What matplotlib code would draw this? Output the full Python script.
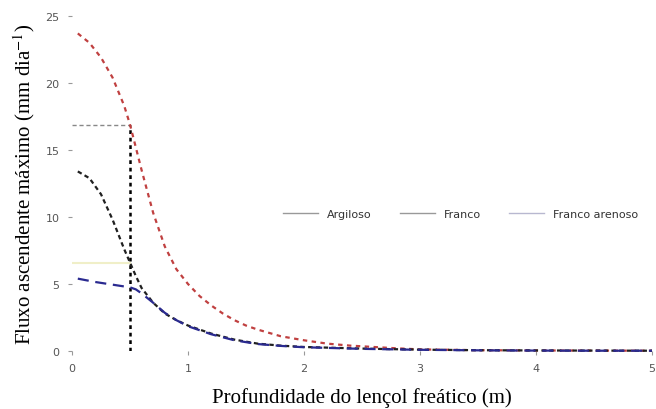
import matplotlib
matplotlib.use('Agg')
import matplotlib.pyplot as plt

# profundidade do lençol (m) e fluxo ascendente máximo (mm/dia)
prof_arg = [0.05, 0.15, 0.25, 0.35, 0.45, 0.5, 0.55, 0.6, 0.7, 0.8, 0.9, 1.0, 1.1, 1.2, 1.3, 1.4, 1.5,
            1.6, 1.8, 2.0, 2.2, 2.4, 2.6, 2.8, 3.0, 3.5, 4.0, 4.5, 5.0]
fluxo_arg = [23.7, 23.0, 21.9, 20.4, 18.3, 16.9, 15.2, 13.5, 10.3, 7.8, 6.1, 5.0, 4.1, 3.4, 2.8, 2.3, 1.9,
             1.6, 1.1, 0.8, 0.55, 0.4, 0.3, 0.2, 0.12, 0.06, 0.04, 0.03, 0.02]

prof_fra = [0.05, 0.15, 0.25, 0.35, 0.45, 0.5, 0.55, 0.6, 0.7, 0.8, 0.9, 1.0, 1.2, 1.4, 1.6, 1.8, 2.0,
            2.5, 3.0, 3.5, 4.0, 4.5, 5.0]
fluxo_fra = [13.4, 12.9, 11.7, 9.8, 7.6, 6.6, 5.6, 4.7, 3.6, 2.8, 2.3, 1.9, 1.3, 0.85, 0.55, 0.4, 0.3,
             0.18, 0.1, 0.06, 0.04, 0.03, 0.02]

prof_are = [0.05, 0.2, 0.35, 0.5, 0.55, 0.6, 0.7, 0.8, 0.9, 1.0, 1.2, 1.4, 1.6, 1.8, 2.0,
            2.5, 3.0, 3.5, 4.0, 4.5, 5.0]
fluxo_are = [5.4, 5.15, 4.95, 4.75, 4.6, 4.3, 3.6, 2.85, 2.3, 1.85, 1.25, 0.8, 0.52, 0.38, 0.28,
             0.16, 0.09, 0.05, 0.03, 0.02, 0.02]

prof_ref = 0.5
fluxo_ref_arg = 16.9
fluxo_ref_fra = 6.6

xticks = [0, 1, 2, 3, 4, 5]
yticks = [0, 5, 10, 15, 20, 25]
rotulos = ['Argiloso', 'Franco', 'Franco arenoso']

plt.rcParams['mathtext.fontset'] = 'stix'

fig = plt.figure(figsize=(6.56, 4.10), dpi=100)
ax = fig.add_axes([72 / 656, 1 - 352 / 410, 580 / 656, 335 / 410])

# linhas de referência
ax.plot([0, prof_ref], [fluxo_ref_arg, fluxo_ref_arg], color='#888888', ls=(0, (3, 2)), lw=1.0)
ax.plot([0, prof_ref], [fluxo_ref_fra, fluxo_ref_fra], color='#f0efc8', lw=1.5)
ax.plot([prof_ref, prof_ref], [0, fluxo_ref_arg], color='black', ls=(0, (1.5, 1.5)), lw=1.8)

ax.plot(prof_arg, fluxo_arg, color='#c04040', ls=(0, (2, 2)), lw=1.6, clip_on=False)
ax.plot(prof_fra, fluxo_fra, color='#202020', ls=(0, (2, 1.5)), lw=1.6, clip_on=False)
ax.plot(prof_are, fluxo_are, color='#2a2a90', ls=(0, (5, 3)), lw=1.6, clip_on=False)

# legenda com traços cinza, sem moldura
for cor, rot in zip(['#999999', '#999999', '#b8b8d0'], rotulos):
    ax.plot([], [], color=cor, lw=1.0, label=rot)
h, l = ax.get_legend_handles_labels()
ax.legend(h[-3:], l[-3:], ncol=3, frameon=False, loc='center',
          bbox_to_anchor=(0.67, 0.41), fontsize=8, handlelength=3.2,
          columnspacing=2.5, labelcolor='#333333')

ax.set_xlim(0, 5)
ax.set_ylim(0, 25)
ax.set_xticks(xticks)
ax.set_yticks(yticks)
for s in ax.spines.values():
    s.set_visible(False)
ax.tick_params(colors='#999999', labelcolor='#555555', labelsize=8, length=3, pad=6)

ax.set_xlabel('Profundidade do lençol freático (m)', family='Liberation Serif', fontsize=15, labelpad=10)
ax.set_ylabel('Fluxo ascendente máximo (mm dia$^{-1}$)', family='Liberation Serif', fontsize=15, labelpad=6)

fig.savefig('out.png', dpi=100)
